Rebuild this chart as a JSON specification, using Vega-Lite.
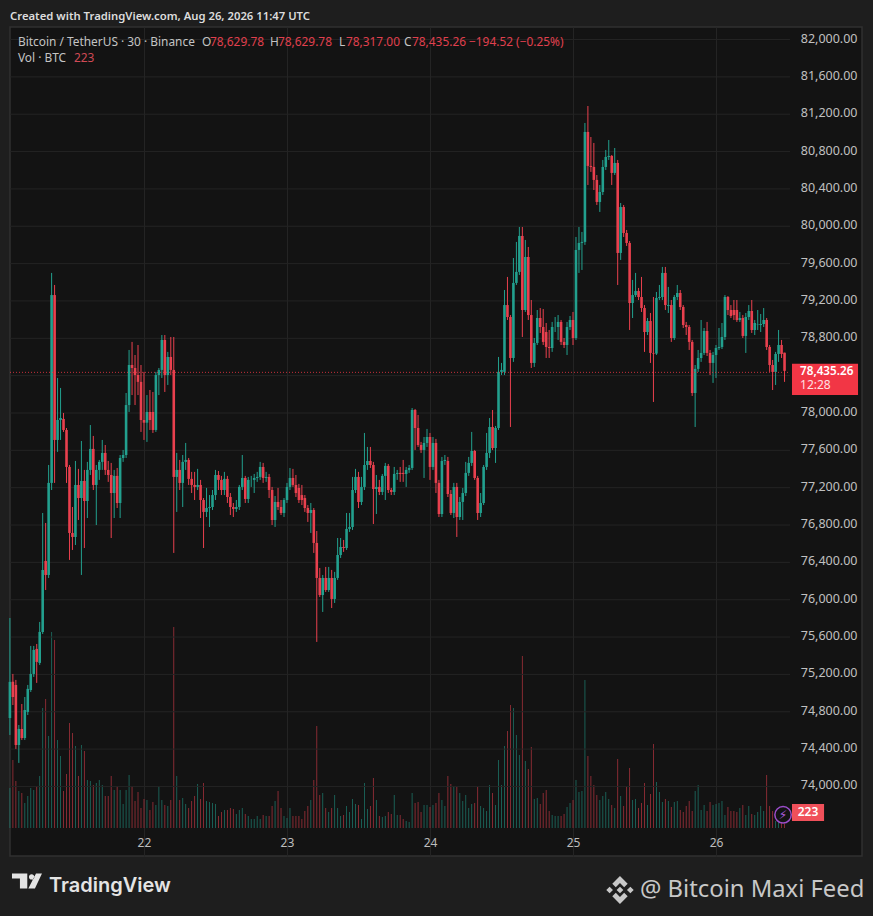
{"$schema":"https://vega.github.io/schema/vega-lite/v6.json","width":852,"height":829,"autosize":"none","padding":{"left":10,"top":27,"right":11,"bottom":60},"background":"#1e1e1e","view":{"fill":"#131313","stroke":"#303030","strokeWidth":1.5},"title":{"text":"Created with TradingView.com, Aug 26, 2026 11:47 UTC","anchor":"start","frame":"group","color":"#dcdcdc","font":"Noto Sans","fontSize":11.3,"fontWeight":600,"offset":5},"config":{"font":"Noto Sans"},"datasets":{"g":[{"p":74000},{"p":74400},{"p":74800},{"p":75200},{"p":75600},{"p":76000},{"p":76400},{"p":76800},{"p":77200},{"p":77600},{"p":78000},{"p":78400},{"p":78800},{"p":79200},{"p":79600},{"p":80000},{"p":80400},{"p":80800},{"p":81200},{"p":81600},{"p":82000}],"c":[
{"t":"2026-08-21T01:30Z","o":74717,"h":75788,"l":74535,"c":75104,"v":2000},
{"t":"2026-08-21T02:00Z","o":75104,"h":75189,"l":74856,"c":74942,"v":3400},
{"t":"2026-08-21T02:30Z","o":75071,"h":75125,"l":74386,"c":74428,"v":2350},
{"t":"2026-08-21T03:00Z","o":74428,"h":74642,"l":74236,"c":74600,"v":1850},
{"t":"2026-08-21T03:30Z","o":74600,"h":74867,"l":74482,"c":74503,"v":1750},
{"t":"2026-08-21T04:00Z","o":74503,"h":74942,"l":74482,"c":74803,"v":1250},
{"t":"2026-08-21T04:30Z","o":74782,"h":75071,"l":74749,"c":75029,"v":1600},
{"t":"2026-08-21T05:00Z","o":75017,"h":75489,"l":74996,"c":75189,"v":2000},
{"t":"2026-08-21T05:30Z","o":75189,"h":75489,"l":75157,"c":75446,"v":1900},
{"t":"2026-08-21T06:00Z","o":75457,"h":75510,"l":75093,"c":75318,"v":2100},
{"t":"2026-08-21T06:30Z","o":75307,"h":75746,"l":75285,"c":75639,"v":2600},
{"t":"2026-08-21T07:00Z","o":75639,"h":76913,"l":75617,"c":76303,"v":6000},
{"t":"2026-08-21T07:30Z","o":76399,"h":76806,"l":76088,"c":76249,"v":6450},
{"t":"2026-08-21T08:00Z","o":76249,"h":77427,"l":76217,"c":77235,"v":4600},
{"t":"2026-08-21T08:30Z","o":77235,"h":79484,"l":77159,"c":79247,"v":9800},
{"t":"2026-08-21T09:00Z","o":79247,"h":79355,"l":77235,"c":77695,"v":9400},
{"t":"2026-08-21T09:30Z","o":77695,"h":78359,"l":77567,"c":77909,"v":4400},
{"t":"2026-08-21T10:00Z","o":77909,"h":78252,"l":77695,"c":77930,"v":3600},
{"t":"2026-08-21T10:30Z","o":77920,"h":77984,"l":77781,"c":77802,"v":1850},
{"t":"2026-08-21T11:00Z","o":77802,"h":77823,"l":77235,"c":77406,"v":2700},
{"t":"2026-08-21T11:30Z","o":77406,"h":77427,"l":76410,"c":76699,"v":5250},
{"t":"2026-08-21T12:00Z","o":76699,"h":76977,"l":76517,"c":76656,"v":4750},
{"t":"2026-08-21T12:30Z","o":76656,"h":77470,"l":76570,"c":77213,"v":4100},
{"t":"2026-08-21T13:00Z","o":77213,"h":77385,"l":76838,"c":77073,"v":2600},
{"t":"2026-08-21T13:30Z","o":77073,"h":77684,"l":76249,"c":77256,"v":4150},
{"t":"2026-08-21T14:00Z","o":77256,"h":77374,"l":76538,"c":77041,"v":3850},
{"t":"2026-08-21T14:30Z","o":77041,"h":77460,"l":76859,"c":77374,"v":2400},
{"t":"2026-08-21T15:00Z","o":77374,"h":77855,"l":77320,"c":77599,"v":2350},
{"t":"2026-08-21T15:30Z","o":77599,"h":77738,"l":77159,"c":77213,"v":2150},
{"t":"2026-08-21T16:00Z","o":77213,"h":77427,"l":76784,"c":77374,"v":2250},
{"t":"2026-08-21T16:30Z","o":77374,"h":77481,"l":77267,"c":77460,"v":2400},
{"t":"2026-08-21T17:00Z","o":77460,"h":77695,"l":77374,"c":77556,"v":2150},
{"t":"2026-08-21T17:30Z","o":77556,"h":77641,"l":77320,"c":77374,"v":1600},
{"t":"2026-08-21T18:00Z","o":77374,"h":77470,"l":77246,"c":77320,"v":1600},
{"t":"2026-08-21T18:30Z","o":77320,"h":77449,"l":76645,"c":77127,"v":2600},
{"t":"2026-08-21T19:00Z","o":77127,"h":77374,"l":76859,"c":77310,"v":1900},
{"t":"2026-08-21T19:30Z","o":77310,"h":77395,"l":76966,"c":77020,"v":2100},
{"t":"2026-08-21T20:00Z","o":77020,"h":77534,"l":76859,"c":77502,"v":1900},
{"t":"2026-08-21T20:30Z","o":77502,"h":77588,"l":77460,"c":77534,"v":1200},
{"t":"2026-08-21T21:00Z","o":77534,"h":78198,"l":77502,"c":78069,"v":1900},
{"t":"2026-08-21T21:30Z","o":78069,"h":78659,"l":77995,"c":78498,"v":2650},
{"t":"2026-08-21T22:00Z","o":78498,"h":78745,"l":78176,"c":78466,"v":2100},
{"t":"2026-08-21T22:30Z","o":78466,"h":78605,"l":78069,"c":78391,"v":1350},
{"t":"2026-08-21T23:00Z","o":78391,"h":78712,"l":78176,"c":78317,"v":1800},
{"t":"2026-08-21T23:30Z","o":78317,"h":78498,"l":77781,"c":77909,"v":1000},
{"t":"2026-08-22T00:00Z","o":77909,"h":78424,"l":77695,"c":77880,"v":1450},
{"t":"2026-08-22T00:30Z","o":77880,"h":78176,"l":77674,"c":77995,"v":1400},
{"t":"2026-08-22T01:00Z","o":77995,"h":78230,"l":77802,"c":77909,"v":900},
{"t":"2026-08-22T01:30Z","o":77995,"h":78209,"l":77770,"c":77802,"v":1300},
{"t":"2026-08-22T02:00Z","o":77802,"h":78424,"l":77781,"c":78391,"v":1150},
{"t":"2026-08-22T02:30Z","o":78391,"h":78466,"l":78176,"c":78445,"v":2100},
{"t":"2026-08-22T03:00Z","o":78445,"h":78819,"l":78359,"c":78766,"v":1400},
{"t":"2026-08-22T03:30Z","o":78766,"h":78819,"l":78209,"c":78391,"v":1150},
{"t":"2026-08-22T04:00Z","o":78391,"h":78638,"l":78284,"c":78584,"v":1100},
{"t":"2026-08-22T04:30Z","o":78584,"h":78798,"l":78391,"c":78445,"v":1400},
{"t":"2026-08-22T05:00Z","o":78445,"h":78798,"l":76485,"c":77299,"v":10050},
{"t":"2026-08-22T05:30Z","o":77299,"h":77556,"l":76924,"c":77374,"v":2600},
{"t":"2026-08-22T06:00Z","o":77374,"h":77481,"l":77159,"c":77235,"v":1400},
{"t":"2026-08-22T06:30Z","o":77235,"h":77534,"l":76977,"c":77460,"v":1500},
{"t":"2026-08-22T07:00Z","o":77460,"h":77663,"l":77374,"c":77481,"v":1200},
{"t":"2026-08-22T07:30Z","o":77481,"h":77502,"l":77213,"c":77278,"v":1000},
{"t":"2026-08-22T08:00Z","o":77278,"h":77353,"l":77127,"c":77213,"v":1350},
{"t":"2026-08-22T08:30Z","o":77213,"h":77353,"l":77052,"c":77192,"v":1600},
{"t":"2026-08-22T09:00Z","o":77192,"h":77385,"l":77159,"c":77213,"v":2200},
{"t":"2026-08-22T09:30Z","o":77213,"h":77267,"l":76859,"c":77052,"v":1450},
{"t":"2026-08-22T10:00Z","o":77052,"h":77073,"l":76538,"c":76924,"v":2250},
{"t":"2026-08-22T10:30Z","o":76924,"h":77181,"l":76870,"c":76966,"v":1350},
{"t":"2026-08-22T11:00Z","o":76966,"h":77105,"l":76763,"c":76977,"v":1300},
{"t":"2026-08-22T11:30Z","o":76977,"h":77159,"l":76945,"c":77105,"v":1250},
{"t":"2026-08-22T12:00Z","o":77105,"h":77374,"l":77052,"c":77320,"v":1200},
{"t":"2026-08-22T12:30Z","o":77320,"h":77363,"l":77159,"c":77267,"v":600},
{"t":"2026-08-22T13:00Z","o":77267,"h":77310,"l":77105,"c":77159,"v":800},
{"t":"2026-08-22T13:30Z","o":77159,"h":77353,"l":77105,"c":77278,"v":900},
{"t":"2026-08-22T14:00Z","o":77278,"h":77310,"l":77020,"c":77084,"v":900},
{"t":"2026-08-22T14:30Z","o":77084,"h":77127,"l":76891,"c":76977,"v":1000},
{"t":"2026-08-22T15:00Z","o":76977,"h":77020,"l":76870,"c":76956,"v":950},
{"t":"2026-08-22T15:30Z","o":76956,"h":77052,"l":76924,"c":76977,"v":700},
{"t":"2026-08-22T16:00Z","o":76977,"h":77213,"l":76945,"c":77192,"v":900},
{"t":"2026-08-22T16:30Z","o":77192,"h":77534,"l":77159,"c":77288,"v":1000},
{"t":"2026-08-22T17:00Z","o":77288,"h":77310,"l":77020,"c":77063,"v":700},
{"t":"2026-08-22T17:30Z","o":77063,"h":77299,"l":77020,"c":77267,"v":600},
{"t":"2026-08-22T18:00Z","o":77267,"h":77310,"l":77192,"c":77267,"v":450},
{"t":"2026-08-22T18:30Z","o":77267,"h":77331,"l":77127,"c":77288,"v":450},
{"t":"2026-08-22T19:00Z","o":77288,"h":77353,"l":77246,"c":77299,"v":600},
{"t":"2026-08-22T19:30Z","o":77299,"h":77460,"l":77267,"c":77406,"v":450},
{"t":"2026-08-22T20:00Z","o":77406,"h":77449,"l":77235,"c":77288,"v":650},
{"t":"2026-08-22T20:30Z","o":77288,"h":77353,"l":77246,"c":77299,"v":600},
{"t":"2026-08-22T21:00Z","o":77299,"h":77331,"l":77073,"c":77159,"v":600},
{"t":"2026-08-22T21:30Z","o":77159,"h":77192,"l":76784,"c":76838,"v":1100},
{"t":"2026-08-22T22:00Z","o":76838,"h":77095,"l":76763,"c":77031,"v":1350},
{"t":"2026-08-22T22:30Z","o":77031,"h":77181,"l":76945,"c":76977,"v":1850},
{"t":"2026-08-22T23:00Z","o":76977,"h":77052,"l":76891,"c":76913,"v":1000},
{"t":"2026-08-22T23:30Z","o":76913,"h":77073,"l":76870,"c":77052,"v":600},
{"t":"2026-08-23T00:00Z","o":77052,"h":77235,"l":77020,"c":77192,"v":500},
{"t":"2026-08-23T00:30Z","o":77192,"h":77395,"l":77159,"c":77288,"v":1000},
{"t":"2026-08-23T01:00Z","o":77288,"h":77385,"l":77192,"c":77213,"v":600},
{"t":"2026-08-23T01:30Z","o":77213,"h":77320,"l":77084,"c":77127,"v":600},
{"t":"2026-08-23T02:00Z","o":77181,"h":77224,"l":77020,"c":77052,"v":600},
{"t":"2026-08-23T02:30Z","o":77105,"h":77213,"l":76998,"c":77052,"v":450},
{"t":"2026-08-23T03:00Z","o":77073,"h":77105,"l":76924,"c":76966,"v":850},
{"t":"2026-08-23T03:30Z","o":76966,"h":76998,"l":76817,"c":76913,"v":1100},
{"t":"2026-08-23T04:00Z","o":76913,"h":77020,"l":76699,"c":76945,"v":1400},
{"t":"2026-08-23T04:30Z","o":76945,"h":76966,"l":76485,"c":76592,"v":2400},
{"t":"2026-08-23T05:00Z","o":76592,"h":76720,"l":75532,"c":76217,"v":5100},
{"t":"2026-08-23T05:30Z","o":76217,"h":76324,"l":76013,"c":76034,"v":1650},
{"t":"2026-08-23T06:00Z","o":76034,"h":76249,"l":75853,"c":76217,"v":1750},
{"t":"2026-08-23T06:30Z","o":76217,"h":76335,"l":76067,"c":76088,"v":1000},
{"t":"2026-08-23T07:00Z","o":76088,"h":76335,"l":76067,"c":76217,"v":800},
{"t":"2026-08-23T07:30Z","o":76217,"h":76303,"l":75895,"c":75992,"v":1000},
{"t":"2026-08-23T08:00Z","o":75992,"h":76282,"l":75949,"c":76217,"v":1650},
{"t":"2026-08-23T08:30Z","o":76217,"h":76645,"l":76196,"c":76463,"v":1000},
{"t":"2026-08-23T09:00Z","o":76463,"h":76645,"l":76431,"c":76549,"v":600},
{"t":"2026-08-23T09:30Z","o":76549,"h":76624,"l":76496,"c":76538,"v":650},
{"t":"2026-08-23T10:00Z","o":76538,"h":76913,"l":76517,"c":76742,"v":1100},
{"t":"2026-08-23T10:30Z","o":76742,"h":76913,"l":76710,"c":76763,"v":800},
{"t":"2026-08-23T11:00Z","o":76763,"h":77299,"l":76731,"c":77159,"v":1450},
{"t":"2026-08-23T11:30Z","o":77159,"h":77385,"l":77127,"c":77299,"v":1200},
{"t":"2026-08-23T12:00Z","o":77299,"h":77353,"l":76966,"c":77031,"v":1150},
{"t":"2026-08-23T12:30Z","o":77031,"h":77299,"l":76998,"c":77192,"v":450},
{"t":"2026-08-23T13:00Z","o":77192,"h":77770,"l":77159,"c":77427,"v":2250},
{"t":"2026-08-23T13:30Z","o":77427,"h":77620,"l":77374,"c":77470,"v":950},
{"t":"2026-08-23T14:00Z","o":77470,"h":77620,"l":77395,"c":77427,"v":1100},
{"t":"2026-08-23T14:30Z","o":77427,"h":77460,"l":76795,"c":77170,"v":2500},
{"t":"2026-08-23T15:00Z","o":77170,"h":77320,"l":76902,"c":77192,"v":1400},
{"t":"2026-08-23T15:30Z","o":77192,"h":77267,"l":77105,"c":77138,"v":600},
{"t":"2026-08-23T16:00Z","o":77138,"h":77331,"l":77105,"c":77310,"v":550},
{"t":"2026-08-23T16:30Z","o":77310,"h":77449,"l":77052,"c":77417,"v":600},
{"t":"2026-08-23T17:00Z","o":77417,"h":77438,"l":77127,"c":77159,"v":800},
{"t":"2026-08-23T17:30Z","o":77159,"h":77181,"l":77105,"c":77138,"v":700},
{"t":"2026-08-23T18:00Z","o":77138,"h":77406,"l":77105,"c":77331,"v":1650},
{"t":"2026-08-23T18:30Z","o":77331,"h":77374,"l":77267,"c":77342,"v":650},
{"t":"2026-08-23T19:00Z","o":77342,"h":77406,"l":77246,"c":77331,"v":650},
{"t":"2026-08-23T19:30Z","o":77342,"h":77481,"l":77246,"c":77331,"v":450},
{"t":"2026-08-23T20:00Z","o":77331,"h":77406,"l":77192,"c":77374,"v":350},
{"t":"2026-08-23T20:30Z","o":77374,"h":77427,"l":77342,"c":77395,"v":300},
{"t":"2026-08-23T21:00Z","o":77395,"h":78037,"l":77374,"c":78016,"v":1750},
{"t":"2026-08-23T21:30Z","o":78016,"h":78027,"l":77588,"c":77823,"v":1250},
{"t":"2026-08-23T22:00Z","o":77823,"h":77963,"l":77620,"c":77641,"v":1300},
{"t":"2026-08-23T22:30Z","o":77641,"h":77674,"l":77556,"c":77588,"v":800},
{"t":"2026-08-23T23:00Z","o":77588,"h":77727,"l":77288,"c":77663,"v":1150},
{"t":"2026-08-23T23:30Z","o":77663,"h":77813,"l":77620,"c":77727,"v":1150},
{"t":"2026-08-24T00:00Z","o":77727,"h":77770,"l":77267,"c":77406,"v":1050},
{"t":"2026-08-24T00:30Z","o":77406,"h":77727,"l":77374,"c":77663,"v":1150},
{"t":"2026-08-24T01:00Z","o":77663,"h":77706,"l":77127,"c":77235,"v":1250},
{"t":"2026-08-24T01:30Z","o":77235,"h":77267,"l":76870,"c":76902,"v":1750},
{"t":"2026-08-24T02:00Z","o":76902,"h":77513,"l":76870,"c":77470,"v":1400},
{"t":"2026-08-24T02:30Z","o":77470,"h":77534,"l":77427,"c":77481,"v":1100},
{"t":"2026-08-24T03:00Z","o":77470,"h":77513,"l":77084,"c":77116,"v":2600},
{"t":"2026-08-24T03:30Z","o":77116,"h":77159,"l":76891,"c":76913,"v":2200},
{"t":"2026-08-24T04:00Z","o":76913,"h":77235,"l":76859,"c":77192,"v":2100},
{"t":"2026-08-24T04:30Z","o":77192,"h":77235,"l":76656,"c":76870,"v":2050},
{"t":"2026-08-24T05:00Z","o":76870,"h":77084,"l":76838,"c":77031,"v":1750},
{"t":"2026-08-24T05:30Z","o":77031,"h":77181,"l":76838,"c":77127,"v":1350},
{"t":"2026-08-24T06:00Z","o":77127,"h":77460,"l":77095,"c":77342,"v":1650},
{"t":"2026-08-24T06:30Z","o":77342,"h":77513,"l":77310,"c":77449,"v":1000},
{"t":"2026-08-24T07:00Z","o":77449,"h":77781,"l":77417,"c":77577,"v":1200},
{"t":"2026-08-24T07:30Z","o":77577,"h":77588,"l":77267,"c":77288,"v":1250},
{"t":"2026-08-24T08:00Z","o":77288,"h":77310,"l":76838,"c":76913,"v":2050},
{"t":"2026-08-24T08:30Z","o":76913,"h":77127,"l":76870,"c":77020,"v":1100},
{"t":"2026-08-24T09:00Z","o":77020,"h":77427,"l":76998,"c":77406,"v":1000},
{"t":"2026-08-24T09:30Z","o":77406,"h":77770,"l":77374,"c":77556,"v":850},
{"t":"2026-08-24T10:00Z","o":77556,"h":77930,"l":77502,"c":77834,"v":2150},
{"t":"2026-08-24T10:30Z","o":77834,"h":78016,"l":77588,"c":77609,"v":1750},
{"t":"2026-08-24T11:00Z","o":77609,"h":77845,"l":77449,"c":77823,"v":1150},
{"t":"2026-08-24T11:30Z","o":77823,"h":78584,"l":77802,"c":78424,"v":3400},
{"t":"2026-08-24T12:00Z","o":78424,"h":78520,"l":78391,"c":78445,"v":2150},
{"t":"2026-08-24T12:30Z","o":78424,"h":79301,"l":78391,"c":79140,"v":4100},
{"t":"2026-08-24T13:00Z","o":79140,"h":79441,"l":78980,"c":79012,"v":4850},
{"t":"2026-08-24T13:30Z","o":79012,"h":79033,"l":77834,"c":78573,"v":6150},
{"t":"2026-08-24T14:00Z","o":78573,"h":79644,"l":78531,"c":79377,"v":6000},
{"t":"2026-08-24T14:30Z","o":79377,"h":79816,"l":79355,"c":79495,"v":4650},
{"t":"2026-08-24T15:00Z","o":79495,"h":79976,"l":79462,"c":79880,"v":3650},
{"t":"2026-08-24T15:30Z","o":79880,"h":79976,"l":78798,"c":79087,"v":8600},
{"t":"2026-08-24T16:00Z","o":79087,"h":79837,"l":79066,"c":79655,"v":3350},
{"t":"2026-08-24T16:30Z","o":79655,"h":79762,"l":78980,"c":79033,"v":2950},
{"t":"2026-08-24T17:00Z","o":79033,"h":79194,"l":78466,"c":78520,"v":4050},
{"t":"2026-08-24T17:30Z","o":78520,"h":78787,"l":78477,"c":78734,"v":1450},
{"t":"2026-08-24T18:00Z","o":78734,"h":79087,"l":78712,"c":79001,"v":1500},
{"t":"2026-08-24T18:30Z","o":79001,"h":79108,"l":78841,"c":78905,"v":1200},
{"t":"2026-08-24T19:00Z","o":78905,"h":79097,"l":78712,"c":78745,"v":1750},
{"t":"2026-08-24T19:30Z","o":78851,"h":78948,"l":78573,"c":78691,"v":1900},
{"t":"2026-08-24T20:00Z","o":78691,"h":78873,"l":78573,"c":78680,"v":850},
{"t":"2026-08-24T20:30Z","o":78680,"h":78959,"l":78638,"c":78905,"v":650},
{"t":"2026-08-24T21:00Z","o":78905,"h":79012,"l":78851,"c":78905,"v":600},
{"t":"2026-08-24T21:30Z","o":78905,"h":79033,"l":78766,"c":78959,"v":600},
{"t":"2026-08-24T22:00Z","o":78959,"h":78980,"l":78712,"c":78745,"v":600},
{"t":"2026-08-24T22:30Z","o":78745,"h":78787,"l":78680,"c":78712,"v":700},
{"t":"2026-08-24T23:00Z","o":78712,"h":78959,"l":78605,"c":78905,"v":1050},
{"t":"2026-08-24T23:30Z","o":78905,"h":79023,"l":78873,"c":78980,"v":1250},
{"t":"2026-08-25T00:00Z","o":78980,"h":79066,"l":78712,"c":78787,"v":1400},
{"t":"2026-08-25T00:30Z","o":78787,"h":79869,"l":78766,"c":79730,"v":2400},
{"t":"2026-08-25T01:00Z","o":79730,"h":79976,"l":79484,"c":79805,"v":1800},
{"t":"2026-08-25T01:30Z","o":79805,"h":79923,"l":79516,"c":79816,"v":1850},
{"t":"2026-08-25T02:00Z","o":79816,"h":81090,"l":79784,"c":80994,"v":7400},
{"t":"2026-08-25T02:30Z","o":80994,"h":81272,"l":80426,"c":80630,"v":3600},
{"t":"2026-08-25T03:00Z","o":80630,"h":80940,"l":80566,"c":80619,"v":2600},
{"t":"2026-08-25T03:30Z","o":80619,"h":80876,"l":80372,"c":80480,"v":2150},
{"t":"2026-08-25T04:00Z","o":80480,"h":80533,"l":80212,"c":80244,"v":1650},
{"t":"2026-08-25T04:30Z","o":80244,"h":80426,"l":80137,"c":80351,"v":1400},
{"t":"2026-08-25T05:00Z","o":80351,"h":80694,"l":80319,"c":80619,"v":1600},
{"t":"2026-08-25T05:30Z","o":80619,"h":80801,"l":80587,"c":80726,"v":1800},
{"t":"2026-08-25T06:00Z","o":80726,"h":80908,"l":80694,"c":80737,"v":1450},
{"t":"2026-08-25T06:30Z","o":80737,"h":80747,"l":80426,"c":80555,"v":1150},
{"t":"2026-08-25T07:00Z","o":80555,"h":80822,"l":80533,"c":80662,"v":1000},
{"t":"2026-08-25T07:30Z","o":80662,"h":80694,"l":79355,"c":79698,"v":3450},
{"t":"2026-08-25T08:00Z","o":79698,"h":80233,"l":79623,"c":80190,"v":1600},
{"t":"2026-08-25T08:30Z","o":80190,"h":80212,"l":79869,"c":79912,"v":1100},
{"t":"2026-08-25T09:00Z","o":79912,"h":79944,"l":79773,"c":79805,"v":2100},
{"t":"2026-08-25T09:30Z","o":79805,"h":79826,"l":78873,"c":79162,"v":3000},
{"t":"2026-08-25T10:00Z","o":79162,"h":79409,"l":79001,"c":79247,"v":1400},
{"t":"2026-08-25T10:30Z","o":79247,"h":79484,"l":79226,"c":79290,"v":1450},
{"t":"2026-08-25T11:00Z","o":79290,"h":79323,"l":79194,"c":79226,"v":1000},
{"t":"2026-08-25T11:30Z","o":79226,"h":79441,"l":79066,"c":79108,"v":1250},
{"t":"2026-08-25T12:00Z","o":79108,"h":79140,"l":78638,"c":78851,"v":2250},
{"t":"2026-08-25T12:30Z","o":78851,"h":79001,"l":78819,"c":78969,"v":1150},
{"t":"2026-08-25T13:00Z","o":78969,"h":79055,"l":78520,"c":78627,"v":1700},
{"t":"2026-08-25T13:30Z","o":78627,"h":79226,"l":78102,"c":78620,"v":4200},
{"t":"2026-08-25T14:00Z","o":78620,"h":79280,"l":78605,"c":79216,"v":2300},
{"t":"2026-08-25T14:30Z","o":79216,"h":79355,"l":79194,"c":79226,"v":1800},
{"t":"2026-08-25T15:00Z","o":79226,"h":79548,"l":79194,"c":79484,"v":1300},
{"t":"2026-08-25T15:30Z","o":79484,"h":79548,"l":79087,"c":79140,"v":1450},
{"t":"2026-08-25T16:00Z","o":79130,"h":79334,"l":79055,"c":79140,"v":1350},
{"t":"2026-08-25T16:30Z","o":79140,"h":79194,"l":78745,"c":78787,"v":1050},
{"t":"2026-08-25T17:00Z","o":78787,"h":79247,"l":78766,"c":79226,"v":1300},
{"t":"2026-08-25T17:30Z","o":79226,"h":79355,"l":79194,"c":79269,"v":1350},
{"t":"2026-08-25T18:00Z","o":79269,"h":79301,"l":79087,"c":79119,"v":900},
{"t":"2026-08-25T18:30Z","o":79119,"h":79140,"l":78894,"c":78926,"v":800},
{"t":"2026-08-25T19:00Z","o":78926,"h":78959,"l":78819,"c":78905,"v":1100},
{"t":"2026-08-25T19:30Z","o":78905,"h":78926,"l":78659,"c":78745,"v":1350},
{"t":"2026-08-25T20:00Z","o":78745,"h":78766,"l":78166,"c":78198,"v":850},
{"t":"2026-08-25T20:30Z","o":78198,"h":78498,"l":77834,"c":78456,"v":1850},
{"t":"2026-08-25T21:00Z","o":78456,"h":78659,"l":78424,"c":78573,"v":2150},
{"t":"2026-08-25T21:30Z","o":78573,"h":78980,"l":78531,"c":78627,"v":900},
{"t":"2026-08-25T22:00Z","o":78627,"h":78894,"l":78605,"c":78862,"v":1150},
{"t":"2026-08-25T22:30Z","o":78862,"h":78959,"l":78594,"c":78627,"v":850},
{"t":"2026-08-25T23:00Z","o":78627,"h":78659,"l":78391,"c":78520,"v":1300},
{"t":"2026-08-25T23:30Z","o":78520,"h":78638,"l":78306,"c":78605,"v":1150},
{"t":"2026-08-26T00:00Z","o":78605,"h":78712,"l":78359,"c":78680,"v":1200},
{"t":"2026-08-26T00:30Z","o":78680,"h":78894,"l":78659,"c":78691,"v":1250},
{"t":"2026-08-26T01:00Z","o":78691,"h":78948,"l":78669,"c":78798,"v":1350},
{"t":"2026-08-26T01:30Z","o":78798,"h":79247,"l":78766,"c":79226,"v":650},
{"t":"2026-08-26T02:00Z","o":79226,"h":79237,"l":79033,"c":79087,"v":1050},
{"t":"2026-08-26T02:30Z","o":79087,"h":79140,"l":79001,"c":79023,"v":850},
{"t":"2026-08-26T03:00Z","o":79087,"h":79194,"l":78980,"c":79033,"v":850},
{"t":"2026-08-26T03:30Z","o":79087,"h":79194,"l":78959,"c":78980,"v":800},
{"t":"2026-08-26T04:00Z","o":78980,"h":79066,"l":78959,"c":79001,"v":1000},
{"t":"2026-08-26T04:30Z","o":79001,"h":79033,"l":78787,"c":78809,"v":1150},
{"t":"2026-08-26T05:00Z","o":78809,"h":79055,"l":78627,"c":79012,"v":650},
{"t":"2026-08-26T05:30Z","o":79012,"h":79140,"l":78980,"c":79076,"v":1100},
{"t":"2026-08-26T06:00Z","o":79076,"h":79194,"l":78841,"c":78873,"v":700},
{"t":"2026-08-26T06:30Z","o":78873,"h":78980,"l":78819,"c":78948,"v":650},
{"t":"2026-08-26T07:00Z","o":78926,"h":79087,"l":78873,"c":78930,"v":800},
{"t":"2026-08-26T07:30Z","o":78926,"h":79044,"l":78851,"c":78937,"v":1100},
{"t":"2026-08-26T08:00Z","o":78937,"h":79108,"l":78905,"c":78980,"v":850},
{"t":"2026-08-26T08:30Z","o":78980,"h":79001,"l":78659,"c":78691,"v":2650},
{"t":"2026-08-26T09:00Z","o":78691,"h":78712,"l":78424,"c":78498,"v":1100},
{"t":"2026-08-26T09:30Z","o":78498,"h":78552,"l":78230,"c":78424,"v":850},
{"t":"2026-08-26T10:00Z","o":78424,"h":78638,"l":78284,"c":78616,"v":350},
{"t":"2026-08-26T10:30Z","o":78616,"h":78873,"l":78531,"c":78712,"v":300},
{"t":"2026-08-26T11:00Z","o":78712,"h":78766,"l":78573,"c":78616,"v":300},
{"t":"2026-08-26T11:30Z","o":78629.78,"h":78629.78,"l":78317,"c":78435.26,"v":223}
]},"resolve":{"scale":{"y":"independent"}},"layer":[
{"data":{"name":"c"},"mark":{"type":"bar","size":0.9,"opacity":0.6},"encoding":{"x":{"field":"t","type":"temporal","title":null,"scale":{"type":"utc","padding":0,"domain":["2026-08-21T01:31:00Z","2026-08-27T00:30:00Z"]},"axis":{"values":["2026-08-22T00:00:00Z","2026-08-23T00:00:00Z","2026-08-24T00:00:00Z","2026-08-25T00:00:00Z","2026-08-26T00:00:00Z"],"format":"%-d","grid":true,"gridColor":"#242424","ticks":false,"domain":false,"labelPadding":-14,"labelBaseline":"middle","labelColor":"#bdbdbd","labelFontSize":12,"labelFont":"Noto Sans"}},"y":{"field":"v","type":"quantitative","axis":null,"scale":{"domain":[-1400,40050],"nice":false,"zero":false}},"color":{"condition":{"test":"datum.c>=datum.o","value":"#22a08e"},"value":"#e9404e"}}},
{"data":{"values":[{"a":1}]},"layer":[
{"data":{"name":"g"},"mark":{"type":"rule","color":"#242424","strokeWidth":1,"yOffset":1.5},"encoding":{"y":{"field":"p","type":"quantitative","title":null,"scale":{"domain":[73239,82118],"nice":false,"zero":false},"axis":{"values":[74000,74400,74800,75200,75600,76000,76400,76800,77200,77600,78000,78800,79200,79600,80000,80400,80800,81200,81600,82000],"format":",.2f","orient":"right","grid":false,"ticks":false,"domain":false,"labelAlign":"right","labelPadding":-5,"labelColor":"#c0c0c0","labelFontSize":12.5,"labelFont":"Noto Sans","labelOverlap":false,"labelBound":false}},"x":{"datum":{"year":2026,"month":8,"date":21,"hours":1,"minutes":31,"utc":true},"type":"temporal"},"x2":{"datum":{"year":2026,"month":8,"date":26,"hours":12,"minutes":25,"utc":true}}}},
{"data":{"name":"c"},"mark":{"type":"rule","strokeWidth":1},"encoding":{"x":{"field":"t","type":"temporal","title":null},"y":{"field":"l","type":"quantitative","title":null,"axis":{"orient":"right"}},"y2":{"field":"h"},"color":{"condition":{"test":"datum.c>=datum.o","value":"#22a08e"},"value":"#e9404e"}}},
{"data":{"name":"c"},"mark":{"type":"bar","size":2.6,"minBandSize":1},"encoding":{"x":{"field":"t","type":"temporal","title":null},"y":{"field":"o","type":"quantitative","title":null,"axis":{"orient":"right"}},"y2":{"field":"c"},"color":{"condition":{"test":"datum.c>=datum.o","value":"#22a08e"},"value":"#e9404e"}}},
{"mark":{"type":"rule","color":"#f23645","strokeWidth":1,"strokeDash":[1,2],"opacity":0.8,"yOffset":1.5},"encoding":{"y":{"datum":78435.26,"type":"quantitative","axis":{"orient":"right"}},"x":{"datum":{"year":2026,"month":8,"date":21,"hours":1,"minutes":31,"utc":true},"type":"temporal"},"x2":{"datum":{"year":2026,"month":8,"date":26,"hours":12,"minutes":25,"utc":true}}}},
{"mark":{"type":"rect","color":"#f23645"},"encoding":{"x":{"datum":{"year":2026,"month":8,"date":26,"hours":12,"minutes":45,"utc":true},"type":"temporal"},"x2":{"datum":{"year":2026,"month":8,"date":26,"hours":23,"minutes":50,"utc":true}},"y":{"datum":78510,"type":"quantitative","axis":{"orient":"right"}},"y2":{"datum":78177}}},
{"mark":{"type":"text","align":"left","baseline":"middle","color":"#ffffff","fontSize":11.7,"fontWeight":600},"encoding":{"text":{"value":"78,435.26"},"x":{"datum":{"year":2026,"month":8,"date":26,"hours":14,"minutes":6,"utc":true},"type":"temporal"},"y":{"datum":78435,"type":"quantitative","axis":{"orient":"right"}}}},
{"mark":{"type":"text","align":"left","baseline":"middle","color":"#ffe0e3","fontSize":12},"encoding":{"text":{"value":"12:28"},"x":{"datum":{"year":2026,"month":8,"date":26,"hours":14,"minutes":6,"utc":true},"type":"temporal"},"y":{"datum":78284,"type":"quantitative","axis":{"orient":"right"}}}},
{"mark":{"type":"rect","color":"#f0505a"},"encoding":{"x":{"datum":{"year":2026,"month":8,"date":26,"hours":12,"minutes":45,"utc":true},"type":"temporal"},"x2":{"datum":{"year":2026,"month":8,"date":26,"hours":18,"minutes":8,"utc":true}},"y":{"datum":73796,"type":"quantitative","axis":{"orient":"right"}},"y2":{"datum":73614}}},
{"mark":{"type":"text","align":"center","baseline":"middle","color":"#ffffff","fontSize":12,"fontWeight":600},"encoding":{"text":{"value":"223"},"x":{"datum":{"year":2026,"month":8,"date":26,"hours":15,"minutes":26,"utc":true},"type":"temporal"},"y":{"datum":73711,"type":"quantitative","axis":{"orient":"right"}}}},
{"mark":{"type":"point","shape":"circle","size":270,"fill":"#131313","filled":true,"stroke":"#9b4dca","strokeWidth":1.5,"opacity":1},"encoding":{"x":{"datum":{"year":2026,"month":8,"date":26,"hours":11,"minutes":15,"utc":true},"type":"temporal"},"y":{"datum":73680,"type":"quantitative","axis":{"orient":"right"}}}},
{"mark":{"type":"text","align":"center","baseline":"middle","color":"#b45fe0","fontSize":12,"font":"DejaVu Sans"},"encoding":{"text":{"value":"⚡"},"x":{"datum":{"year":2026,"month":8,"date":26,"hours":11,"minutes":15,"utc":true},"type":"temporal"},"y":{"datum":73680,"type":"quantitative","axis":{"orient":"right"}}}},
{"mark":{"type":"text","align":"left","baseline":"middle","color":"#c4c4c4","fontSize":11.9},"encoding":{"text":{"value":"Bitcoin / TetherUS · 30 · Binance"},"x":{"datum":{"year":2026,"month":8,"date":21,"hours":2,"minutes":51,"utc":true},"type":"temporal"},"y":{"datum":81957,"type":"quantitative","axis":{"orient":"right"}}}},
{"mark":{"type":"text","align":"left","baseline":"middle","color":"#c4c4c4","fontSize":11.9},"encoding":{"text":{"value":"O"},"x":{"datum":{"year":2026,"month":8,"date":22,"hours":9,"minutes":44,"utc":true},"type":"temporal"},"y":{"datum":81957,"type":"quantitative","axis":{"orient":"right"}}}},
{"mark":{"type":"text","align":"left","baseline":"middle","color":"#e0404e","fontSize":11.9},"encoding":{"text":{"value":"78,629.78"},"x":{"datum":{"year":2026,"month":8,"date":22,"hours":11,"minutes":5,"utc":true},"type":"temporal"},"y":{"datum":81957,"type":"quantitative","axis":{"orient":"right"}}}},
{"mark":{"type":"text","align":"left","baseline":"middle","color":"#c4c4c4","fontSize":11.9},"encoding":{"text":{"value":"H"},"x":{"datum":{"year":2026,"month":8,"date":22,"hours":21,"minutes":9,"utc":true},"type":"temporal"},"y":{"datum":81957,"type":"quantitative","axis":{"orient":"right"}}}},
{"mark":{"type":"text","align":"left","baseline":"middle","color":"#e0404e","fontSize":11.9},"encoding":{"text":{"value":"78,629.78"},"x":{"datum":{"year":2026,"month":8,"date":22,"hours":22,"minutes":29,"utc":true},"type":"temporal"},"y":{"datum":81957,"type":"quantitative","axis":{"orient":"right"}}}},
{"mark":{"type":"text","align":"left","baseline":"middle","color":"#c4c4c4","fontSize":11.9},"encoding":{"text":{"value":"L"},"x":{"datum":{"year":2026,"month":8,"date":23,"hours":8,"minutes":44,"utc":true},"type":"temporal"},"y":{"datum":81957,"type":"quantitative","axis":{"orient":"right"}}}},
{"mark":{"type":"text","align":"left","baseline":"middle","color":"#e0404e","fontSize":11.9},"encoding":{"text":{"value":"78,317.00"},"x":{"datum":{"year":2026,"month":8,"date":23,"hours":9,"minutes":54,"utc":true},"type":"temporal"},"y":{"datum":81957,"type":"quantitative","axis":{"orient":"right"}}}},
{"mark":{"type":"text","align":"left","baseline":"middle","color":"#c4c4c4","fontSize":11.9},"encoding":{"text":{"value":"C"},"x":{"datum":{"year":2026,"month":8,"date":23,"hours":19,"minutes":38,"utc":true},"type":"temporal"},"y":{"datum":81957,"type":"quantitative","axis":{"orient":"right"}}}},
{"mark":{"type":"text","align":"left","baseline":"middle","color":"#e0404e","fontSize":11.9},"encoding":{"text":{"value":"78,435.26"},"x":{"datum":{"year":2026,"month":8,"date":23,"hours":20,"minutes":59,"utc":true},"type":"temporal"},"y":{"datum":81957,"type":"quantitative","axis":{"orient":"right"}}}},
{"mark":{"type":"text","align":"left","baseline":"middle","color":"#e0404e","fontSize":11.9},"encoding":{"text":{"value":"−194.52 (−0.25%)"},"x":{"datum":{"year":2026,"month":8,"date":24,"hours":6,"minutes":33,"utc":true},"type":"temporal"},"y":{"datum":81957,"type":"quantitative","axis":{"orient":"right"}}}},
{"mark":{"type":"text","align":"left","baseline":"middle","color":"#c4c4c4","fontSize":11.9},"encoding":{"text":{"value":"Vol · BTC"},"x":{"datum":{"year":2026,"month":8,"date":21,"hours":2,"minutes":51,"utc":true},"type":"temporal"},"y":{"datum":81786,"type":"quantitative","axis":{"orient":"right"}}}},
{"mark":{"type":"text","align":"left","baseline":"middle","color":"#d04a55","fontSize":11.9},"encoding":{"text":{"value":"223"},"x":{"datum":{"year":2026,"month":8,"date":21,"hours":12,"minutes":15,"utc":true},"type":"temporal"},"y":{"datum":81786,"type":"quantitative","axis":{"orient":"right"}}}},
{"mark":{"type":"point","filled":true,"opacity":1,"color":"#e4e4e4","size":900,"shape":"M-1 -0.5H0.02V0.5H-0.47V-0.17H-1Z M0.13 -0.28A0.18 0.18 0 1 0 0.49 -0.28A0.18 0.18 0 1 0 0.13 -0.28Z M0.6 -0.5H1L0.53 0.5H0.09Z"},"encoding":{"x":{"datum":{"year":2026,"month":8,"date":21,"hours":4,"minutes":22,"utc":true},"type":"temporal"},"y":{"datum":72970,"type":"quantitative","axis":{"orient":"right"}}}},
{"mark":{"type":"text","align":"left","baseline":"middle","color":"#e4e4e4","fontSize":20,"font":"Inter","fontWeight":600},"encoding":{"text":{"value":"TradingView"},"x":{"datum":{"year":2026,"month":8,"date":21,"hours":8,"minutes":3,"utc":true},"type":"temporal"},"y":{"datum":72918,"type":"quantitative","axis":{"orient":"right"}}}},
{"mark":{"type":"point","filled":true,"opacity":1,"color":"#c8c8c8","size":784,"shape":"M0 -0.24L0.24 0L0 0.24L-0.24 0Z M-0.98 0L-0.74 -0.24L-0.5 0L-0.74 0.24Z M0.98 0L0.74 -0.24L0.5 0L0.74 0.24Z M0 -1L0.55 -0.45L0.3 -0.2L0 -0.5L-0.3 -0.2L-0.55 -0.45Z M0 1L0.55 0.45L0.3 0.2L0 0.5L-0.3 0.2L-0.55 0.45Z"},"encoding":{"x":{"datum":{"year":2026,"month":8,"date":25,"hours":7,"minutes":53,"utc":true},"type":"temporal"},"y":{"datum":72875,"type":"quantitative","axis":{"orient":"right"}}}},
{"mark":{"type":"text","align":"left","baseline":"middle","color":"#c8c8c8","fontSize":23.8,"font":"Noto Sans"},"encoding":{"text":{"value":"@ Bitcoin Maxi Feed"},"x":{"datum":{"year":2026,"month":8,"date":25,"hours":11,"minutes":15,"utc":true},"type":"temporal"},"y":{"datum":72875,"type":"quantitative","axis":{"orient":"right"}}}}
]}
]}
